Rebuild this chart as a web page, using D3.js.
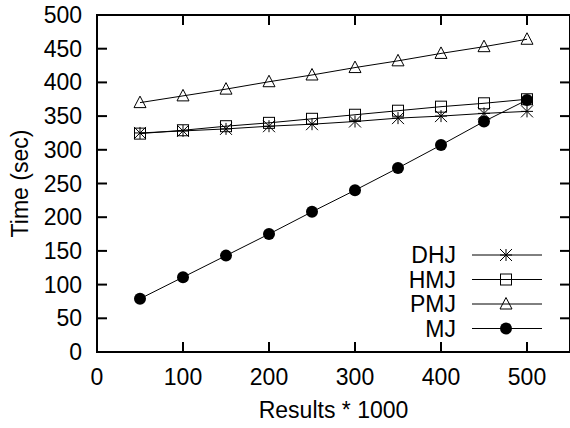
<!DOCTYPE html>
<html>
<head>
<meta charset="utf-8">
<script src="https://cdn.jsdelivr.net/npm/d3@7"></script>
<style>
  body { margin: 0; background: #fff; }
  svg text { font-family: "Liberation Sans", Arial, sans-serif; font-size: 23px; fill: #000; }
</style>
</head>
<body>
<div id="chart"></div>
<script>
const results = [50, 100, 150, 200, 250, 300, 350, 400, 450, 500];
const dhj = [325, 328, 331, 335, 338, 342, 347, 350, 354, 357];
const hmj = [324, 329, 335, 340, 346, 352, 358, 364, 369, 375];
const pmj = [370, 380, 390, 401, 411, 422, 432, 443, 453, 464];
const mj = [79, 111, 143, 175, 208, 240, 273, 307, 342, 374];
const xTicks = [0, 100, 200, 300, 400, 500];
const yTicks = [0, 50, 100, 150, 200, 250, 300, 350, 400, 450, 500];

const series = [
  { name: 'DHJ', values: dhj, marker: 'star' },
  { name: 'HMJ', values: hmj, marker: 'square' },
  { name: 'PMJ', values: pmj, marker: 'triangle' },
  { name: 'MJ', values: mj, marker: 'circle' }
];

const W = 570, H = 428;
const margin = { top: 15, right: 0, bottom: 76, left: 97 };
const width = W - margin.left - margin.right;
const height = H - margin.top - margin.bottom;

const svg = d3.select('#chart').append('svg')
  .attr('width', W).attr('height', H);

const g = svg.append('g')
  .attr('transform', `translate(${margin.left},${margin.top})`);

const x = d3.scaleLinear().domain([0, 550]).range([0, width]);
const y = d3.scaleLinear().domain([0, 500]).range([height, 0]);

// ticks, drawn inward on all four sides
const tl = 10;
g.append('g').selectAll('line').data(xTicks).enter().append('line')
  .attr('x1', d => x(d)).attr('x2', d => x(d))
  .attr('y1', height).attr('y2', height - tl)
  .attr('stroke', '#000').attr('stroke-width', 2);
g.append('g').selectAll('line').data(xTicks).enter().append('line')
  .attr('x1', d => x(d)).attr('x2', d => x(d))
  .attr('y1', 0).attr('y2', tl)
  .attr('stroke', '#000').attr('stroke-width', 2);
g.append('g').selectAll('line').data(yTicks).enter().append('line')
  .attr('x1', 0).attr('x2', tl)
  .attr('y1', d => y(d)).attr('y2', d => y(d))
  .attr('stroke', '#000').attr('stroke-width', 2);
g.append('g').selectAll('line').data(yTicks).enter().append('line')
  .attr('x1', width).attr('x2', width - tl)
  .attr('y1', d => y(d)).attr('y2', d => y(d))
  .attr('stroke', '#000').attr('stroke-width', 2);

// frame
g.append('rect')
  .attr('x', 0).attr('y', 0).attr('width', width).attr('height', height)
  .attr('fill', 'none').attr('stroke', '#000').attr('stroke-width', 2);

// tick labels
g.append('g').selectAll('text').data(xTicks).enter().append('text')
  .attr('x', d => x(d)).attr('y', height + 33)
  .attr('text-anchor', 'middle')
  .text(d => d);
g.append('g').selectAll('text').data(yTicks).enter().append('text')
  .attr('x', -15).attr('y', d => y(d) + 8)
  .attr('text-anchor', 'end')
  .text(d => d);

// axis titles
svg.append('text')
  .attr('x', margin.left + x(275)).attr('y', 418)
  .attr('text-anchor', 'middle')
  .text('Results * 1000');
svg.append('text')
  .attr('transform', `translate(28,${margin.top + height / 2}) rotate(-90)`)
  .attr('text-anchor', 'middle')
  .text('Time (sec)');

function drawMarker(sel, type) {
  if (type === 'star') {
    const r = 6;
    sel.append('path')
      .attr('d', `M${-r},0H${r}M0,${-r}V${r}M${-r},${-r}L${r},${r}M${-r},${r}L${r},${-r}`)
      .attr('stroke', '#000').attr('stroke-width', 1).attr('fill', 'none');
  } else if (type === 'square') {
    sel.append('rect')
      .attr('x', -5.5).attr('y', -5.5).attr('width', 11).attr('height', 11)
      .attr('fill', 'none').attr('stroke', '#000').attr('stroke-width', 1);
  } else if (type === 'triangle') {
    sel.append('path')
      .attr('d', 'M0,-6.5L6,5H-6Z')
      .attr('fill', 'none').attr('stroke', '#000').attr('stroke-width', 1);
  } else {
    sel.append('circle').attr('r', 6).attr('fill', '#000');
  }
}

const line = d3.line().x(d => x(d.x)).y(d => y(d.y));

series.forEach(s => {
  const pts = results.map((r, i) => ({ x: r, y: s.values[i] }));
  g.append('path').datum(pts)
    .attr('d', line)
    .attr('fill', 'none').attr('stroke', '#000').attr('stroke-width', 1);
  pts.forEach(p => {
    const m = g.append('g').attr('transform', `translate(${x(p.x)},${y(p.y)})`);
    drawMarker(m, s.marker);
  });
});

// legend
const legend = svg.append('g');
series.forEach((s, i) => {
  const cy = 255 + i * 24.5;
  legend.append('text')
    .attr('x', 456).attr('y', cy + 8)
    .attr('text-anchor', 'end')
    .text(s.name);
  legend.append('line')
    .attr('x1', 472).attr('x2', 542).attr('y1', cy).attr('y2', cy)
    .attr('stroke', '#000').attr('stroke-width', 1);
  const m = legend.append('g').attr('transform', `translate(506,${cy})`);
  drawMarker(m, s.marker);
});
</script>
</body>
</html>
